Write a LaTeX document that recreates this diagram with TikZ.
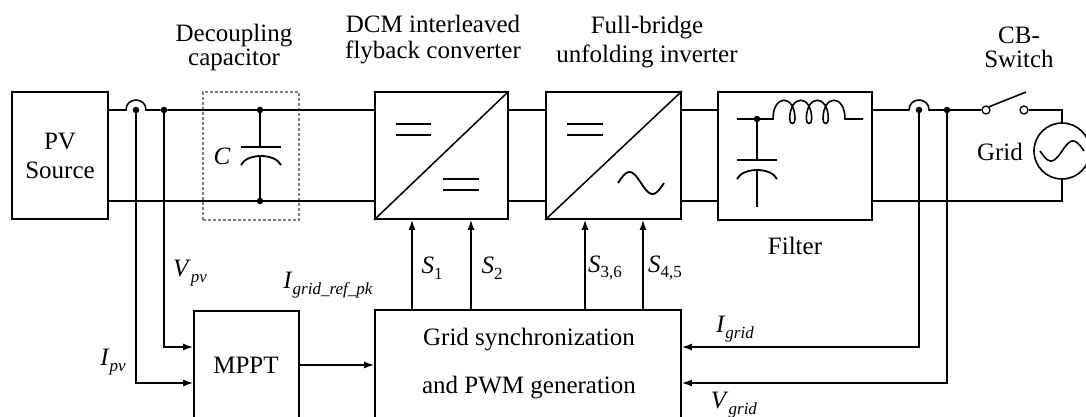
\documentclass[tikz,border=0pt]{standalone}
\usepackage{fontspec}
\setmainfont{Liberation Serif}
\usetikzlibrary{arrows.meta}
\newcommand{\subl}[2]{\textit{#1}\raisebox{-0.5ex}{\fontsize{17}{17}\selectfont #2}}
\begin{document}
\begin{tikzpicture}[x=1pt,y=-1pt,font=\fontsize{25}{26}\selectfont,
  box/.style={draw,line width=1.9pt,inner sep=0pt},
  wire/.style={line width=1.6pt},
  sig/.style={line width=1.3pt,-{Latex[length=10pt,width=7pt]}},
  txt/.style={inner sep=0pt},
  ttl/.style={inner sep=0pt,anchor=north,align=center},
  dot/.style={circle,fill,inner sep=0pt,minimum size=6.5pt}]
\useasboundingbox (0,0) rectangle (1086,416);
\clip (0,0) rectangle (1086,416);
\fill[white] (0,0) rectangle (1086,416);
% reference levels
\coordinate (T) at (0,110);
\coordinate (B) at (0,201);
\coordinate (yV) at (0,347);
\coordinate (yI) at (0,383);
\coordinate (yM) at (0,365);
% blocks
\node[box,minimum width=96pt,minimum height=127pt,align=center,font=\fontsize{25}{29}\selectfont] (pv) at (60,155.5) {PV\\Source};
\node[draw=gray,dashed,dash pattern=on 3pt off 2pt,line width=1.2pt,minimum width=96pt,minimum height=128pt,inner sep=0pt] (cbox) at (251,156) {};
\node[box,minimum width=133pt,minimum height=127pt] (dcm) at (441.5,155.5) {};
\node[box,minimum width=135pt,minimum height=127pt] (fb) at (613.5,155.5) {};
\node[box,minimum width=154pt,minimum height=128pt] (flt) at (795,156) {};
\node[box,minimum width=105pt,minimum height=130pt] (mppt) at (246.5,376) {};
\node[box,minimum width=306pt,minimum height=130pt] (gs) at (528,375) {};
\node[circle,draw,line width=1.6pt,minimum size=56pt,inner sep=0pt] (grid) at (1062,151) {};
\node[circle,draw,line width=1.3pt,minimum size=8pt,inner sep=0pt] (sw1) at (986,110) {};
\node[circle,draw,line width=1.3pt,minimum size=8pt,inner sep=0pt] (sw2) at (1024,110) {};
% junctions
\node[dot] (j1) at (136,110) {};
\node[dot] (j2) at (164,110) {};
\node[dot] (jc1) at (260,110) {};
\node[dot] (jc2) at (260,201) {};
\node[dot] (j3) at (919,110) {};
\node[dot] (j4) at (947,110) {};
\node[dot] (jf) at (757,119) {};
% converter symbols
\draw[line width=1.5pt] (dcm.south west) -- (dcm.north east);
\draw[line width=1.8pt] (396,124) -- (431,124) (396,135) -- (431,135)
  (443,179) -- (479,179) (443,190) -- (479,190);
\draw[line width=1.5pt] (fb.south west) -- (fb.north east);
\draw[line width=1.8pt] (567,124) -- (603,124) (567,135) -- (603,135);
\draw[line width=1.8pt] plot[domain=0:1,samples=40,smooth] ({618+46*\x},{183-11*sin(360*\x)});
% top wires
\draw[wire] (pv.east|-T) -- (126,110) .. controls (126,96.7) and (146,96.7) .. (146,110) -- (j2) -- (dcm.west|-T);
\draw[wire] (dcm.east|-T) -- (fb.west|-T);
\draw[wire] (fb.east|-T) -- (flt.west|-T);
\draw[wire] (flt.east|-T) -- (909,110) .. controls (909,96.7) and (929,96.7) .. (929,110) -- (sw1.west);
\draw[wire] (sw1.north east) -- (1026,92);
\draw[wire] (sw2.east) -- (grid.north|-T) -- (grid.north);
% bottom wires
\draw[wire] (pv.east|-B) -- (dcm.west|-B);
\draw[wire] (dcm.east|-B) -- (fb.west|-B);
\draw[wire] (fb.east|-B) -- (flt.west|-B);
\draw[wire] (flt.east|-B) -- (grid.south|-B) -- (grid.south);
% grid sine
\draw[line width=1.6pt] plot[domain=0:1,samples=40,smooth] ({1040+44*\x},{151+10*sin(360*\x)});
% decoupling capacitor
\draw[wire] (jc1) -- (260,147);
\draw[line width=1.8pt] (241,147) -- (281,147);
\draw[line width=1.8pt] (241,165) .. controls (247,153) and (275,153) .. (281,165);
\draw[wire] (260,156) -- (jc2);
% filter
\draw[wire] (737,119) -- (773,119)
  .. controls (773,94) and (795,94) .. (795,119) .. controls (795,125) and (789.7,125) .. (789.7,119)
  .. controls (789.7,94) and (811.7,94) .. (811.7,119) .. controls (811.7,125) and (806.3,125) .. (806.3,119)
  .. controls (806.3,94) and (828.3,94) .. (828.3,119) .. controls (828.3,125) and (823,125) .. (823,119)
  .. controls (823,94) and (845,94) .. (845,119) -- (863,119);
\draw[wire] (jf) -- (757,160);
\draw[line width=1.8pt] (737,160) -- (777,160);
\draw[line width=1.8pt] (737,179) .. controls (743,167) and (771,167) .. (777,179);
\draw[wire] (757,170) -- (757,207);
% measurement feedback
\draw[sig] (j1) -- (j1|-yI) -- (mppt.west|-yI);
\draw[sig] (j2) -- (j2|-yV) -- (mppt.west|-yV);
\draw[sig] (mppt.east|-yM) -- (gs.west|-yM);
\draw[sig] (j3) -- (j3|-yV) -- (gs.east|-yV);
\draw[sig] (j4) -- (j4|-yI) -- (gs.east|-yI);
% gate signals
\coordinate (xs1) at (412,0);
\coordinate (xs2) at (471,0);
\coordinate (xs3) at (585,0);
\coordinate (xs4) at (643,0);
\draw[sig] (gs.north-|xs1) -- (dcm.south-|xs1);
\draw[sig] (gs.north-|xs2) -- (dcm.south-|xs2);
\draw[sig] (gs.north-|xs3) -- (fb.south-|xs3);
\draw[sig] (gs.north-|xs4) -- (fb.south-|xs4);
% texts
\node[ttl,font=\fontsize{25}{24}\selectfont] (tdc) at (234,24) {Decoupling\\capacitor};
\node[ttl,font=\fontsize{25}{26}\selectfont] (tdcm) at (433,15) {DCM interleaved\\flyback converter};
\node[ttl,font=\fontsize{25}{29}\selectfont] (tfb) at (647,16) {Full-bridge\\unfolding inverter};
\node[ttl,font=\fontsize{25}{24}\selectfont] (tcb) at (1019,27) {CB-\\Switch};
\node[txt] (tc) at (222,156) {\textit{C}};
\node[txt] (tflt) at (795,246) {Filter};
\node[txt] (tgrid) at (1000,152) {Grid};
\node[txt] (tmppt) at (246,365) {MPPT};
\node[txt] (tgs1) at (529,340) {Grid synchronization};
\node[txt] (tgs2) at (529,388) {and PWM generation};
\node[txt] (tvpv) at (190,273) {\subl{V}{\textit{pv}}};
\node[txt] (tipv) at (113,362) {\subl{I}{\textit{pv}}};
\node[txt] (tref) at (328,285) {\subl{I}{\textit{grid\_ref\_pk}}};
\node[txt] (ts1) at (432,268) {\subl{S}{1}};
\node[txt] (ts2) at (492,268) {\subl{S}{2}};
\node[txt] (ts3) at (605,268) {\subl{S}{3,6}};
\node[txt] (ts4) at (665,268) {\subl{S}{4,5}};
\node[txt] (tig) at (735,329) {\subl{I}{\textit{grid}}};
\node[txt] (tvg) at (734,405) {\subl{V}{\textit{grid}}};
\end{tikzpicture}
\end{document}
